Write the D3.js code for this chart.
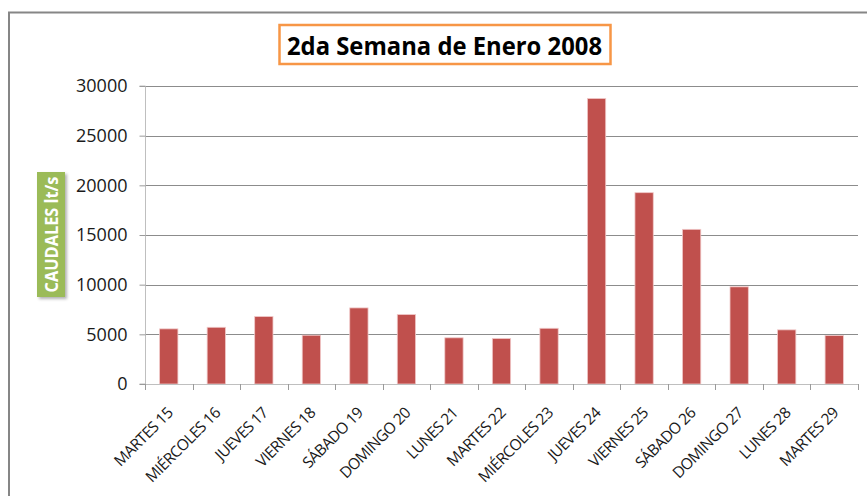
<!DOCTYPE html>
<html>
<head>
<meta charset="utf-8">
<script src="https://cdn.jsdelivr.net/npm/d3@7"></script>
<style>
    body { margin: 0; background: #fff; }
    svg { display: block; font-family: "Open Sans", sans-serif; }
</style>
</head>
<body>
<div id="chart"></div>
<script>
// Caudales, 2da semana de enero 2008
const days = ['MARTES 15', 'MIÉRCOLES 16', 'JUEVES 17', 'VIERNES 18', 'SÁBADO 19', 'DOMINGO 20',
    'LUNES 21', 'MARTES 22', 'MIÉRCOLES 23', 'JUEVES 24', 'VIERNES 25', 'SÁBADO 26',
    'DOMINGO 27', 'LUNES 28', 'MARTES 29'];
const caudales = [5550, 5710, 6790, 4910, 7660, 6990, 4650, 4580, 5610, 28740, 19260, 15570, 9780, 5450, 4880];
const yTicks = [0, 5000, 10000, 15000, 20000, 25000, 30000];

const width = 867;
const height = 496;
const plot = { left: 145, right: 858, top: 86, bottom: 384 };

const svg = d3.select('#chart')
    .append('svg')
    .attr('width', width)
    .attr('height', height);

const defs = svg.append('defs');
const shadow = defs.append('filter').attr('id', 'shadow')
    .attr('x', '-30%').attr('y', '-10%').attr('width', '160%').attr('height', '130%');
shadow.append('feDropShadow')
    .attr('dx', 2).attr('dy', 2).attr('stdDeviation', 1.5)
    .attr('flood-color', '#000').attr('flood-opacity', 0.3);

// outer frame
svg.append('rect')
    .attr('x', 9).attr('y', 12.5)
    .attr('width', 900).attr('height', 600)
    .attr('fill', 'none')
    .attr('stroke', '#868686')
    .attr('stroke-width', 2);

const x = d3.scaleBand()
    .domain(days)
    .range([plot.left, plot.right])
    .paddingInner(0.615)
    .paddingOuter(0.3075);

const y = d3.scaleLinear()
    .domain([0, 30000])
    .range([plot.bottom, plot.top]);

// gridlines
svg.append('g')
    .selectAll('line')
    .data(yTicks.filter(d => d > 0))
    .enter()
    .append('line')
    .attr('x1', plot.left)
    .attr('x2', plot.right)
    .attr('y1', d => Math.round(y(d)) + 0.5)
    .attr('y2', d => Math.round(y(d)) + 0.5)
    .attr('stroke', '#8c8c8c')
    .attr('stroke-width', 1);

// bars
svg.append('g')
    .selectAll('rect')
    .data(caudales)
    .enter()
    .append('rect')
    .attr('x', (d, i) => x(days[i]))
    .attr('y', d => y(d))
    .attr('width', x.bandwidth())
    .attr('height', d => y(0) - y(d))
    .attr('fill', '#c0504d')
    .attr('stroke', '#f0c8c8')
    .attr('stroke-width', 0.8);

// y axis
const yAxis = svg.append('g')
    .attr('transform', `translate(${plot.left + 0.5},0)`)
    .call(d3.axisLeft(y).tickValues(yTicks).tickSize(6).tickPadding(12).tickFormat(d3.format('d')));
yAxis.select('.domain').attr('stroke', '#bfbfbf').attr('d', `M-6,${plot.top}H0V${plot.bottom}H-6`);
yAxis.selectAll('.tick line').attr('stroke', '#9a9a9a');
yAxis.selectAll('.tick text')
    .attr('font-size', 18)
    .attr('font-family', '"Open Sans", sans-serif')
    .attr('fill', '#1a1a1a');

// x axis line and ticks at band edges
svg.append('line')
    .attr('x1', plot.left).attr('x2', plot.right)
    .attr('y1', plot.bottom + 0.5).attr('y2', plot.bottom + 0.5)
    .attr('stroke', '#bfbfbf');

svg.append('g')
    .selectAll('line')
    .data(d3.range(days.length + 1))
    .enter()
    .append('line')
    .attr('x1', i => Math.round(plot.left + i * x.step()) + 0.5)
    .attr('x2', i => Math.round(plot.left + i * x.step()) + 0.5)
    .attr('y1', plot.bottom)
    .attr('y2', plot.bottom + 6)
    .attr('stroke', '#9a9a9a');

// category labels, rotated
svg.append('g')
    .selectAll('text')
    .data(days)
    .enter()
    .append('text')
    .attr('transform', d => `translate(${x(d) + x.bandwidth() / 2 + 5},${plot.bottom + 30}) rotate(-45)`)
    .attr('text-anchor', 'end')
    .attr('font-size', 15.5)
    .attr('letter-spacing', -0.6)
    .attr('fill', '#1a1a1a')
    .text(d => d);

// title box
svg.append('rect')
    .attr('x', 279.5).attr('y', 25)
    .attr('width', 331).attr('height', 39)
    .attr('fill', '#fff')
    .attr('stroke', '#f79646')
    .attr('stroke-width', 2.5);

svg.append('text')
    .attr('x', 287)
    .attr('y', 55)
    .attr('font-size', 25.5)
    .attr('font-weight', 700)
    .attr('textLength', 315)
    .attr('lengthAdjust', 'spacingAndGlyphs')
    .attr('fill', '#000')
    .text('2da Semana de Enero 2008');

// y axis title, green tag
svg.append('rect')
    .attr('x', 37).attr('y', 172)
    .attr('width', 28).attr('height', 125)
    .attr('fill', '#9bbb59')
    .attr('filter', 'url(#shadow)');

svg.append('text')
    .attr('transform', 'translate(58,234.5) rotate(-90)')
    .attr('text-anchor', 'middle')
    .attr('font-size', 17)
    .attr('font-weight', 700)
    .attr('textLength', 116)
    .attr('lengthAdjust', 'spacingAndGlyphs')
    .attr('fill', '#fff')
    .text('CAUDALES lt/s');
</script>
</body>
</html>
